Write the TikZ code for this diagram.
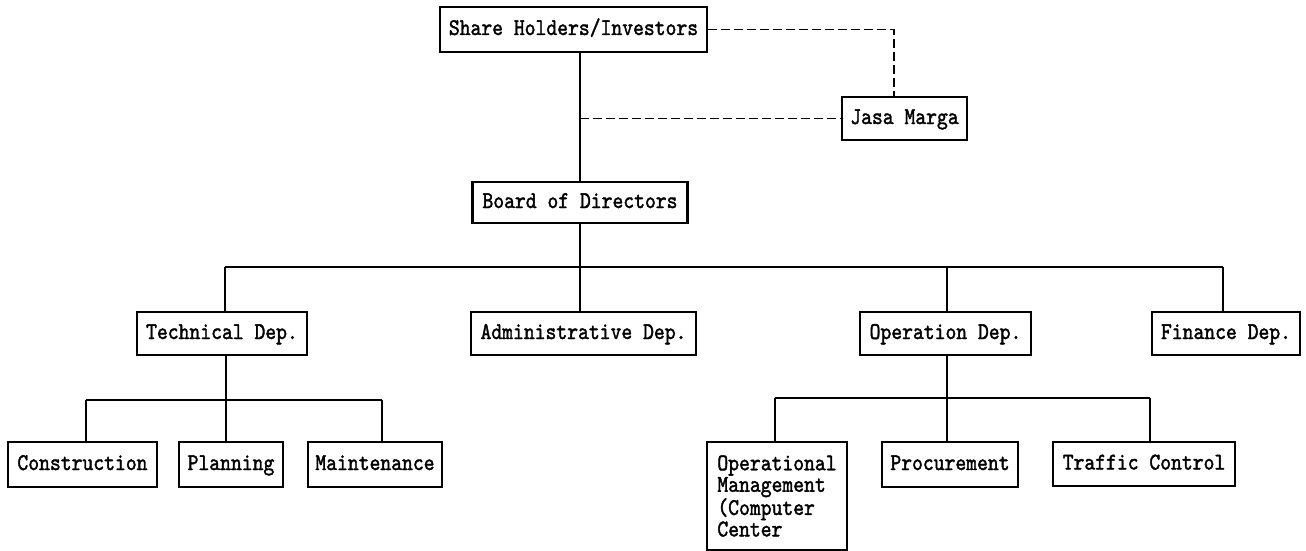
\documentclass[tikz,border=0pt]{standalone}
\usepackage{fontspec}
\newfontfamily\tw[FakeStretch=0.86,FakeBold=1.6]{lmmono10-regular.otf}
\tikzset{
  box/.style={draw, line width=2.6pt, inner sep=0pt, align=center,
    text height=15pt, text depth=4pt,
    font={\tw\fontsize{24}{21.5}\selectfont}},
  conn/.style={line width=2.2pt},
  dashconn/.style={line width=1.8pt, dash pattern=on 9pt off 4pt},
}
\begin{document}
\begin{tikzpicture}[x=1pt,y=-1pt]
\useasboundingbox (0,0) rectangle (1306,551);
% nodes
\node[box, minimum width=267pt, minimum height=45pt] (sh) at (573.5,29.5) {Share Holders/Investors};
\node[box, minimum width=125pt, minimum height=43pt] (jm) at (904.5,118.5) {Jasa Marga};
\node[box, minimum width=215pt, minimum height=41pt] (bod) at (580,202.5) {Board of Directors};
\node[box, minimum width=170pt, minimum height=43pt] (tech) at (222,333.5) {Technical Dep.};
\node[box, minimum width=225pt, minimum height=43pt] (adm) at (583.5,333.5) {Administrative Dep.};
\node[box, minimum width=171pt, minimum height=43pt] (op) at (945.5,333.5) {Operation Dep.};
\node[box, minimum width=148pt, minimum height=43pt] (fin) at (1226,333.5) {Finance Dep.};
\node[box, minimum width=149pt, minimum height=45pt] (con) at (82.5,464.5) {Construction};
\node[box, minimum width=104pt, minimum height=45pt] (plan) at (231,464.5) {Planning};
\node[box, minimum width=134pt, minimum height=45pt] (mnt) at (375,464.5) {Maintenance};
\node[box, align=left, text height=, text depth=, minimum width=140pt, minimum height=108pt] (opm) at (777,496) {Operational\\Management\\(Computer\\Center};
\node[box, minimum width=136pt, minimum height=45pt] (proc) at (950,464.5) {Procurement};
\node[box, minimum width=182pt, minimum height=44pt] (trf) at (1144,464) {Traffic Control};
% bus coordinates
\coordinate (busL) at (225,267);
\coordinate (busR) at (1223,267);
\coordinate (tb) at (226,400);
\coordinate (tbL) at (86,400);
\coordinate (tbR) at (382,400);
\coordinate (ob) at (947,398);
\coordinate (obL) at (775,398);
\coordinate (obR) at (1150,398);
% connectors
\draw[conn] (bod.north |- sh.south) -- (bod.north);
\draw[dashconn] (sh.east) -| ([xshift=-10.5pt]jm.north);
\draw[dashconn] (jm.west -| bod.north) -- (jm.west);
\draw[conn] (bod.south) -- (bod.south |- busL);
\draw[conn] (busL) -- (busR);
\draw[conn] (busL) -- (busL |- tech.north);
\draw[conn] (bod.south |- busL) -- (bod.south |- adm.north);
\draw[conn] (ob |- busL) -- (ob |- op.north);
\draw[conn] (busR) -- (busR |- fin.north);
\draw[conn] (tb |- tech.south) -- (tb) -- (tb |- plan.north);
\draw[conn] (tbL) -- (tbR);
\draw[conn] (tbL) -- (tbL |- con.north);
\draw[conn] (tbR) -- (tbR |- mnt.north);
\draw[conn] (ob |- op.south) -- (ob) -- (ob |- proc.north);
\draw[conn] (obL) -- (obR);
\draw[conn] (obL) -- (obL |- opm.north);
\draw[conn] (obR) -- (obR |- trf.north);
\end{tikzpicture}
\end{document}
